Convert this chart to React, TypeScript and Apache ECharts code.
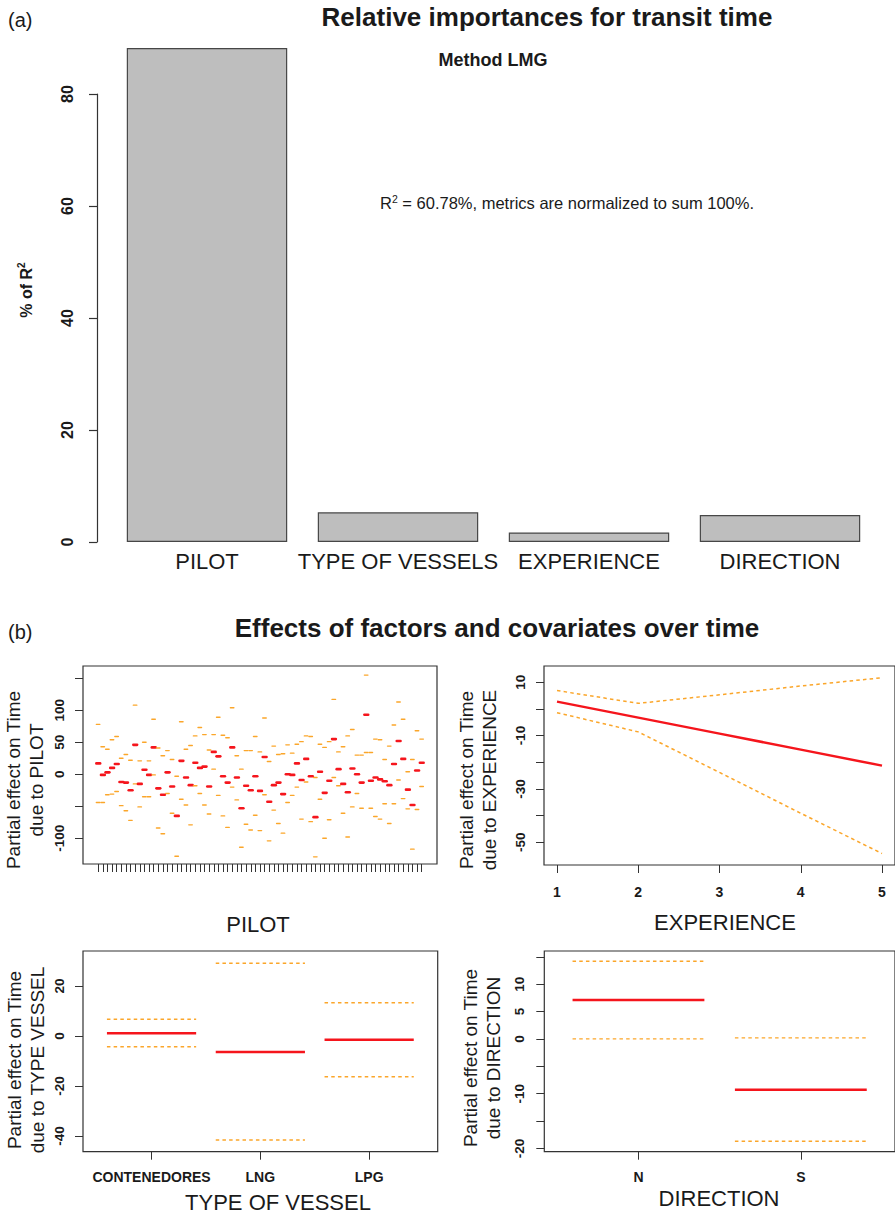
import React, { useEffect, useRef } from "react";
import * as echarts from "echarts";

// ---- (a) relative importances (LMG), % of R^2 ----
const barNames = ["PILOT", "TYPE OF VESSELS", "EXPERIENCE", "DIRECTION"];
const barShares = [88.2, 5.3, 1.7, 4.8];

// ---- (b) PILOT partial effects: estimate and standard-error band per pilot ----
const pilotEffect = [
  17, -1, 3, 10, 16, -12, -13, -25, 46, -15, 7, -1, 42, -22, -32, 3, -19, -65, 21, -5,
  -17, 18, 10, 12, -19, 35, 28, -3, -13, 42, -5, -53, -18, -25, -3, -26, 27, -43, -17, -13,
  -31, 0, -1, 17, -9, 24, -3, -67, 4, -29, -10, 55, 8, -15, -28, 9, 0, -13, 93, -10,
  -5, -8, -11, -17, 16, 52, 24, -24, -48, 6, 18,
];
const pilotUpper = [
  78, 43, 39, 54, 59, 25, 31, 22, 108, 21, 50, 21, 86, 41, 29, 37, 23, -3, 82, 39,
  45, 60, 73, 62, 38, 62, 89, 61, 57, 104, 29, 8, 37, 37, 59, 35, 88, 20, 44, 31,
  32, 46, 33, 47, 51, 60, 59, -5, 47, 42, 51, 117, 35, 43, 60, 70, 30, 30, 155, 34,
  55, 54, 23, 44, 77, 113, 86, 4, 23, 68, 55,
];
const pilotLower = [
  -44, -44, -32, -31, -27, -49, -57, -72, -15, -51, -35, -35, -1, -84, -93, -30, -61, -128, -39, -48,
  -79, -18, -30, -48, -62, 8, -33, -65, -83, -20, -40, -114, -78, -87, -64, -88, -32, -104, -56, -77,
  -92, -44, -33, -20, -70, -12, -74, -129, -39, -100, -71, -5, -18, -61, -98, -51, -30, -53, 34, -53,
  -66, -70, -46, -77, -46, -9, -38, -54, -117, -55, -19,
];
const pilotIds = pilotEffect.map((_, i) => i + 1);
const pilotTicksY = [-100, -50, 0, 50, 100, 150];
const pilotLabelsY = [-100, 0, 50, 100];

// ---- (b) EXPERIENCE partial effect ----
const experienceLevels = [1, 2, 3, 4, 5];
const experienceEffect = [2.75, -3.25, -9.25, -15.25, -21.25];
const experienceUpper = [6.9, 2.1, 5.3, 8.6, 11.7];
const experienceLower = [-1.4, -8.6, -23.8, -39.1, -54.2];
const experienceTicksY = [10, 0, -10, -20, -30, -40, -50];
const experienceLabelsY = [10, -10, -30, -50];

// ---- (b) TYPE OF VESSEL partial effect ----
const vesselTypes = ["CONTENEDORES", "LNG", "LPG"];
const vesselEffect = [1.1, -6.4, -1.5];
const vesselUpper = [6.7, 29.1, 13.3];
const vesselLower = [-4.3, -41.6, -16.3];
const vesselTicksY = [20, 0, -20, -40];

// ---- (b) DIRECTION partial effect ----
const directions = ["N", "S"];
const directionEffect = [7.1, -9.3];
const directionUpper = [14.2, 0.2];
const directionLower = [0.0, -18.7];
const directionTicksY = [15, 10, 5, 0, -5, -10, -15, -20];
const directionLabelsY = [10, 5, 0, -10, -20];

const FONT = '"Liberation Sans", Arial, Helvetica, sans-serif';
const INK = "#1a1a1a";
const AXIS = "#333333";
const RED = "#f5151c";
const ORANGE = "#fba62a";

// rows of [position, estimate, lower, upper]
const rows = (pos: number[], est: number[], lo: number[], up: number[]) =>
  pos.map((p, i) => [p, est[i], lo[i], up[i]]);

// horizontal segments per factor level: red estimate, dashed orange band
function segments(half: number, redWidth: number, orangeWidth: number, cap: string) {
  return (_params: any, api: any) => {
    const x = api.value(0);
    const seg = (v: number, stroke: string, lineWidth: number, dash: number[] | null) => {
      const a = api.coord([x - half, v]);
      const b = api.coord([x + half, v]);
      return {
        type: "line",
        shape: { x1: a[0], y1: a[1], x2: b[0], y2: b[1] },
        style: { stroke, lineWidth, lineDash: dash || undefined, lineCap: cap },
      };
    };
    return {
      type: "group",
      children: [
        seg(api.value(2), ORANGE, orangeWidth, [3.5, 3.2]),
        seg(api.value(3), ORANGE, orangeWidth, [3.5, 3.2]),
        seg(api.value(1), RED, redWidth, null),
      ],
    };
  };
}

function yAxisFor(gridIndex: number, min: number, max: number, ticks: number[], labels: number[], margin: number) {
  return {
    type: "value",
    gridIndex,
    min,
    max,
    axisLine: { show: false, onZero: false },
    splitLine: { show: false },
    axisTick: { show: true, length: 8, customValues: ticks, lineStyle: { color: AXIS, width: 1 } },
    axisLabel: {
      customValues: labels,
      rotate: 90,
      margin,
      fontSize: 13.5,
      fontWeight: "bold",
      color: INK,
      fontFamily: FONT,
    },
  };
}

function xAxisFor(gridIndex: number, min: number, max: number, ticks: number[], margin: number, names?: string[]) {
  return {
    type: "value",
    gridIndex,
    min,
    max,
    axisLine: { show: false, onZero: false },
    splitLine: { show: false },
    axisTick: { show: true, length: 8, customValues: ticks, lineStyle: { color: AXIS, width: 1 } },
    axisLabel: {
      customValues: ticks,
      margin,
      fontSize: 14,
      fontWeight: "bold",
      color: INK,
      fontFamily: FONT,
      formatter: (v: number) => (names ? names[Math.round(v) - 1] : String(v)),
    },
  };
}

const panelBox = { show: true, borderColor: AXIS, borderWidth: 1.2, backgroundColor: "transparent" };

function text(x: number, y: number, t: string, size: number, bold = false, rotation = 0, extra: any = {}) {
  return {
    type: "text",
    x,
    y,
    rotation,
    style: {
      text: t,
      fontSize: size,
      fontWeight: bold ? "bold" : "normal",
      fontFamily: FONT,
      fill: INK,
      align: "center",
      verticalAlign: "middle",
      ...extra,
    },
  };
}

function yTitle(x: number, y: number, term: string) {
  return text(x, y, "Partial effect on Time\ndue to " + term, 19, false, Math.PI / 2, { lineHeight: 23 });
}

export default function App() {
  const ref = useRef<HTMLDivElement>(null);

  useEffect(() => {
    if (!ref.current) return;
    const chart = echarts.init(ref.current, null, { renderer: "svg" });

    const option: any = {
      animation: false,
      backgroundColor: "#ffffff",
      grid: [
        { left: 111.5, top: 94, width: 764, height: 448, show: false },
        { left: 83, top: 666, width: 354, height: 198, ...panelBox },
        { left: 544, top: 666, width: 353, height: 199, ...panelBox },
        { left: 83, top: 951, width: 354.7, height: 200.7, ...panelBox },
        { left: 544.3, top: 951, width: 353, height: 200.7, ...panelBox },
      ],
      xAxis: [
        {
          type: "category",
          gridIndex: 0,
          data: barNames,
          axisLine: { show: false },
          axisTick: { show: false },
          axisLabel: { interval: 0, margin: 8, fontSize: 22, color: INK, fontFamily: FONT },
        },
        { ...xAxisFor(1, -2.3, 74.3, pilotIds, 10), axisLabel: { show: false } },
        xAxisFor(2, 0.84, 5.16, experienceLevels, 19.5),
        xAxisFor(3, 0.37, 3.63, [1, 2, 3], 18, vesselTypes),
        xAxisFor(4, 0.42, 2.58, [1, 2], 18, directions),
      ],
      yAxis: [
        {
          type: "value",
          gridIndex: 0,
          min: 0,
          max: 80,
          interval: 20,
          offset: 14.5,
          axisLine: { show: true, onZero: false, lineStyle: { color: AXIS, width: 1.2 } },
          axisTick: { show: true, length: 8, lineStyle: { color: AXIS, width: 1.2 } },
          splitLine: { show: false },
          axisLabel: { rotate: 90, margin: 22, fontSize: 16, fontWeight: "bold", color: INK, fontFamily: FONT },
        },
        yAxisFor(1, -140.2, 169.2, pilotTicksY, pilotLabelsY, 16.5),
        yAxisFor(2, -58.5, 16.1, experienceTicksY, experienceLabelsY, 17),
        yAxisFor(3, -46.3, 34, vesselTicksY, vesselTicksY, 16.5),
        yAxisFor(4, -20.6, 16.06, directionTicksY, directionLabelsY, 18),
      ],
      series: [
        {
          type: "bar",
          xAxisIndex: 0,
          yAxisIndex: 0,
          data: barShares,
          barCategoryGap: "16%",
          clip: false,
          itemStyle: { color: "#bebebe", borderColor: "#474747", borderWidth: 1.2 },
        },
        {
          type: "custom",
          xAxisIndex: 1,
          yAxisIndex: 1,
          data: rows(pilotIds, pilotEffect, pilotLower, pilotUpper),
          encode: { x: 0, y: [1, 2, 3] },
          renderItem: segments(0.41, 2.6, 1.4, "round"),
        },
        {
          type: "line",
          xAxisIndex: 2,
          yAxisIndex: 2,
          symbol: "none",
          data: experienceLevels.map((x, i) => [x, experienceUpper[i]]),
          lineStyle: { color: ORANGE, width: 1.5, type: [3.5, 3.2] },
        },
        {
          type: "line",
          xAxisIndex: 2,
          yAxisIndex: 2,
          symbol: "none",
          data: experienceLevels.map((x, i) => [x, experienceLower[i]]),
          lineStyle: { color: ORANGE, width: 1.5, type: [3.5, 3.2] },
        },
        {
          type: "line",
          xAxisIndex: 2,
          yAxisIndex: 2,
          symbol: "none",
          data: experienceLevels.map((x, i) => [x, experienceEffect[i]]),
          lineStyle: { color: RED, width: 2.5 },
        },
        {
          type: "custom",
          xAxisIndex: 3,
          yAxisIndex: 3,
          data: rows([1, 2, 3], vesselEffect, vesselLower, vesselUpper),
          encode: { x: 0, y: [1, 2, 3] },
          renderItem: segments(0.41, 2.5, 1.4, "butt"),
        },
        {
          type: "custom",
          xAxisIndex: 4,
          yAxisIndex: 4,
          data: rows([1, 2], directionEffect, directionLower, directionUpper),
          encode: { x: 0, y: [1, 2, 3] },
          renderItem: segments(0.406, 2.5, 1.4, "butt"),
        },
      ],
      graphic: {
        elements: [
          text(8, 20, "(a)", 20, false, 0, { align: "left" }),
          text(547, 17, "Relative importances for transit time", 26, true),
          text(493, 60, "Method LMG", 18, true),
          {
            type: "text",
            x: 567,
            y: 203,
            style: {
              text: "{r|R}{s|2}{r| = 60.78%, metrics are normalized to sum 100%.}",
              align: "center",
              verticalAlign: "middle",
              fill: INK,
              rich: {
                r: { fontSize: 16.5, fontFamily: FONT, fill: INK, lineHeight: 20 },
                s: { fontSize: 10.5, fontFamily: FONT, fill: INK, verticalAlign: "top", lineHeight: 20 },
              },
            },
          },
          {
            type: "text",
            x: 26,
            y: 290,
            rotation: Math.PI / 2,
            style: {
              text: "{r|% of R}{s|2}",
              align: "center",
              verticalAlign: "middle",
              fill: INK,
              rich: {
                r: { fontSize: 16, fontWeight: "bold", fontFamily: FONT, fill: INK, lineHeight: 20 },
                s: { fontSize: 10, fontWeight: "bold", fontFamily: FONT, fill: INK, verticalAlign: "top", lineHeight: 20 },
              },
            },
          },
          text(8, 632, "(b)", 20, false, 0, { align: "left" }),
          text(497, 628, "Effects of factors and covariates over time", 26, true),
          yTitle(25, 780, "PILOT"),
          yTitle(478, 780, "EXPERIENCE"),
          yTitle(26, 1060, "TYPE VESSEL"),
          yTitle(482, 1058, "DIRECTION"),
          text(258, 924, "PILOT", 22),
          text(725, 922, "EXPERIENCE", 22),
          text(278, 1202, "TYPE OF VESSEL", 22),
          text(719, 1198, "DIRECTION", 22),
        ],
      },
    };

    chart.setOption(option);
    return () => chart.dispose();
  }, []);

  return (
    <div
      ref={ref}
      style={{ position: "absolute", left: 0, top: 0, width: 895, height: 1215, background: "#fff" }}
    />
  );
}
